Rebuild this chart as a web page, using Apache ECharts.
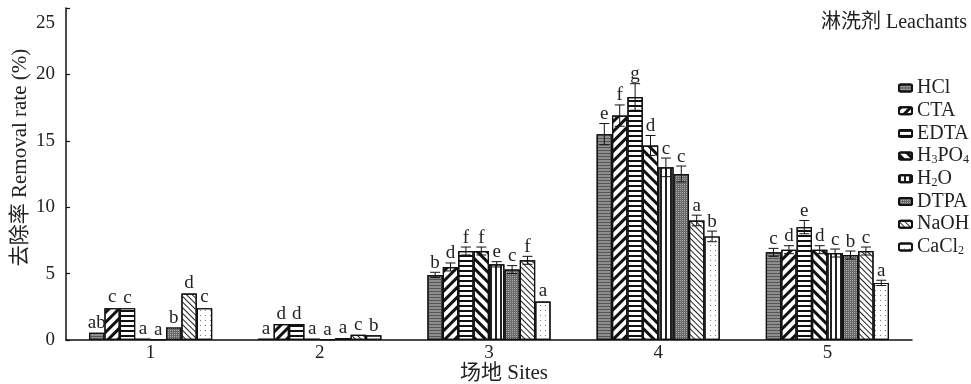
<!DOCTYPE html>
<html><head><meta charset="utf-8">
<script src="https://cdn.jsdelivr.net/npm/echarts@6/dist/echarts.min.js"></script>
<style>html,body{margin:0;padding:0;background:#fff}#c{width:971px;height:384px}</style>
</head><body><div id="c"></div>
<script>
const sites = ['1', '2', '3', '4', '5'];
const leachants = ['HCl', 'CTA', 'EDTA', 'H3PO4', 'H2O', 'DTPA', 'NaOH', 'CaCl2'];
const yTicks = { min: 0, max: 25, interval: 5 };

const vHCl   = [0.55, 0.1, 4.9, 15.5, 6.6];
const vCTA   = [2.4, 1.2, 5.5, 16.9, 6.8];
const vEDTA  = [2.4, 1.2, 6.7, 18.3, 8.5];
const vH3PO4 = [0.1, 0.1, 6.7, 14.65, 6.8];
const vH2O   = [0.05, 0.05, 5.7, 13.0, 6.55];
const vDTPA  = [0.95, 0.15, 5.3, 12.5, 6.4];
const vNaOH  = [3.5, 0.4, 6.0, 9.0, 6.7];
const vCaCl2 = [2.4, 0.35, 2.9, 7.8, 4.3];

const eHCl   = [0, 0, 0.2, 0.8, 0.3];
const eCTA   = [0.1, 0.05, 0.3, 0.8, 0.3];
const eEDTA  = [0.05, 0.05, 0.3, 1.0, 0.5];
const eH3PO4 = [0, 0, 0.3, 0.75, 0.3];
const eH2O   = [0, 0, 0.2, 0.7, 0.3];
const eDTPA  = [0, 0, 0.3, 0.6, 0.3];
const eNaOH  = [0.1, 0, 0.3, 0.4, 0.3];
const eCaCl2 = [0.1, 0, 0.1, 0.4, 0.2];

const lHCl   = ['ab', 'a', 'b', 'e', 'c'];
const lCTA   = ['c', 'd', 'd', 'f', 'd'];
const lEDTA  = ['c', 'd', 'f', 'g', 'e'];
const lH3PO4 = ['a', 'a', 'f', 'd', 'd'];
const lH2O   = ['a', 'a', 'e', 'c', 'c'];
const lDTPA  = ['b', 'a', 'c', 'c', 'b'];
const lNaOH  = ['d', 'c', 'f', 'a', 'c'];
const lCaCl2 = ['c', 'b', 'a', 'b', 'a'];

const values = [vHCl, vCTA, vEDTA, vH3PO4, vH2O, vDTPA, vNaOH, vCaCl2];
const errors = [eHCl, eCTA, eEDTA, eH3PO4, eH2O, eDTPA, eNaOH, eCaCl2];
const letters = [lHCl, lCTA, lEDTA, lH3PO4, lH2O, lDTPA, lNaOH, lCaCl2];

const SERIF = '"Liberation Serif", "Times New Roman", "Noto Sans CJK SC", serif';
const BAR_FRAC = 0.091;
const INK = '#222';

const styles = [
  { color: '#8e8e8e', decal: { symbol: 'rect', symbolSize: 1, dashArrayX: [1, 0], dashArrayY: [1, 1.5], color: '#555' } },
  { color: '#fff', decal: { symbol: 'rect', symbolSize: 1, dashArrayX: [1, 0], dashArrayY: [3, 4], rotation: -Math.PI / 4, color: '#111' } },
  { color: '#fff', decal: { symbol: 'rect', symbolSize: 1, dashArrayX: [1, 0], dashArrayY: [1.5, 3], color: '#111' } },
  { color: '#fff', decal: { symbol: 'rect', symbolSize: 1, dashArrayX: [1, 0], dashArrayY: [3, 4], rotation: Math.PI / 4, color: '#111' } },
  { color: '#fff', decal: { symbol: 'rect', symbolSize: 1, dashArrayX: [1.2, 2.2], dashArrayY: [1, 0], color: '#222' } },
  { color: '#6a6a6a', decal: { symbol: 'rect', symbolSize: 1, dashArrayX: [1, 1], dashArrayY: [1, 1], color: '#a8a8a8' } },
  { color: '#fff', decal: { symbol: 'rect', symbolSize: 1, dashArrayX: [1, 0], dashArrayY: [1, 2.2], rotation: Math.PI / 4, color: '#222' } },
  { color: '#fff', decal: { symbol: 'rect', symbolSize: 1, dashArrayX: [1, 4], dashArrayY: [1, 4], color: '#777' } }
];

const legendRich = {
  n: { fontFamily: SERIF, fontSize: 20, color: INK, lineHeight: 20 },
  s: { fontFamily: SERIF, fontSize: 12, color: INK, lineHeight: 6, verticalAlign: 'bottom' }
};
function legendFmt(name) {
  const map = {
    'H3PO4': '{n|H}{s|3}{n|PO}{s|4}',
    'H2O': '{n|H}{s|2}{n|O}',
    'CaCl2': '{n|CaCl}{s|2}'
  };
  return map[name] || ('{n|' + name + '}');
}

const barSeries = leachants.map((name, i) => ({
  name: name,
  type: 'bar',
  data: values[i],
  barWidth: (BAR_FRAC * 100) + '%',
  barGap: '0%',
  itemStyle: { color: styles[i].color, decal: styles[i].decal, borderColor: '#111', borderWidth: 1.2 },
  emphasis: { disabled: true },
  animation: false
}));

const errData = [];
leachants.forEach((n, i) => sites.forEach((s, j) => errData.push([j, i, values[i][j], errors[i][j]])));

const errSeries = {
  type: 'custom',
  silent: true,
  animation: false,
  z: 5,
  data: errData,
  renderItem: function (params, api) {
    const cat = api.value(0), si = api.value(1), v = api.value(2), e = api.value(3);
    const bandW = api.size([1, 0])[0];
    const bw = bandW * BAR_FRAC;
    const cx = api.coord([cat, 0])[0] + (si - 3.5) * bw;
    const yT = api.coord([cat, v + e])[1];
    const yB = api.coord([cat, Math.max(v - e, 0)])[1];
    const children = [];
    if (e > 0.15) {
      const st = { stroke: '#111', lineWidth: 1 };
      children.push({ type: 'line', shape: { x1: cx, y1: yT, x2: cx, y2: yB }, style: st });
      children.push({ type: 'line', shape: { x1: cx - 5, y1: yT, x2: cx + 5, y2: yT }, style: st });
      children.push({ type: 'line', shape: { x1: cx - 5, y1: yB, x2: cx + 5, y2: yB }, style: st });
    }
    children.push({
      type: 'text',
      style: {
        x: cx, y: yT, text: letters[si][cat],
        textAlign: 'center', textVerticalAlign: 'bottom',
        font: '19px ' + SERIF, fill: INK
      }
    });
    return { type: 'group', children: children };
  }
};

const chart = echarts.init(document.getElementById('c'), null, { renderer: 'canvas' });
chart.setOption({
  animation: false,
  backgroundColor: '#fff',
  title: {
    text: '淋洗剂 Leachants',
    right: 4, top: 13, padding: 0,
    textStyle: { fontFamily: SERIF, fontSize: 20, fontWeight: 'normal', color: INK }
  },
  legend: {
    orient: 'vertical',
    left: 898, top: 78, padding: 0,
    itemWidth: 13, itemHeight: 7, itemGap: 2.7,
    selectedMode: false,
    data: leachants,
    formatter: legendFmt,
    textStyle: { rich: legendRich }
  },
  grid: { left: 66, right: 59, top: 8, bottom: 44, containLabel: false, outerBoundsMode: 'none' },
  xAxis: {
    type: 'category',
    data: sites,
    name: '场地 Sites',
    nameLocation: 'middle',
    nameGap: 23,
    nameMoveOverlap: false,
    nameTextStyle: { fontFamily: SERIF, fontSize: 21, color: INK, padding: [0, 0, 0, 30] },
    axisLine: { lineStyle: { color: '#111', width: 1.5 } },
    axisTick: { inside: true, length: 5, lineStyle: { color: '#111', width: 1.5 } },
    axisLabel: { fontFamily: SERIF, fontSize: 19, color: INK, margin: 4 }
  },
  yAxis: {
    type: 'value',
    min: yTicks.min, max: yTicks.max, interval: yTicks.interval,
    name: '去除率 Removal rate (%)',
    nameLocation: 'middle',
    nameGap: 35,
    nameMoveOverlap: false,
    nameTextStyle: { fontFamily: SERIF, fontSize: 21, color: INK, padding: [0, 0, 0, 33] },
    axisLine: { show: true, lineStyle: { color: '#111', width: 1.5 } },
    axisTick: { show: true, inside: true, length: 4, lineStyle: { color: '#111', width: 1.2 } },
    splitLine: { show: false },
    axisLabel: {
      fontFamily: SERIF, fontSize: 19, color: INK, margin: 11,
      formatter: function (v) { return v === yTicks.max ? '{t|' + v + '}' : String(v); },
      rich: { t: { fontFamily: SERIF, fontSize: 19, color: INK, padding: [30, 0, 0, 0] } }
    }
  },
  series: barSeries.concat([errSeries])
});
</script></body></html>
